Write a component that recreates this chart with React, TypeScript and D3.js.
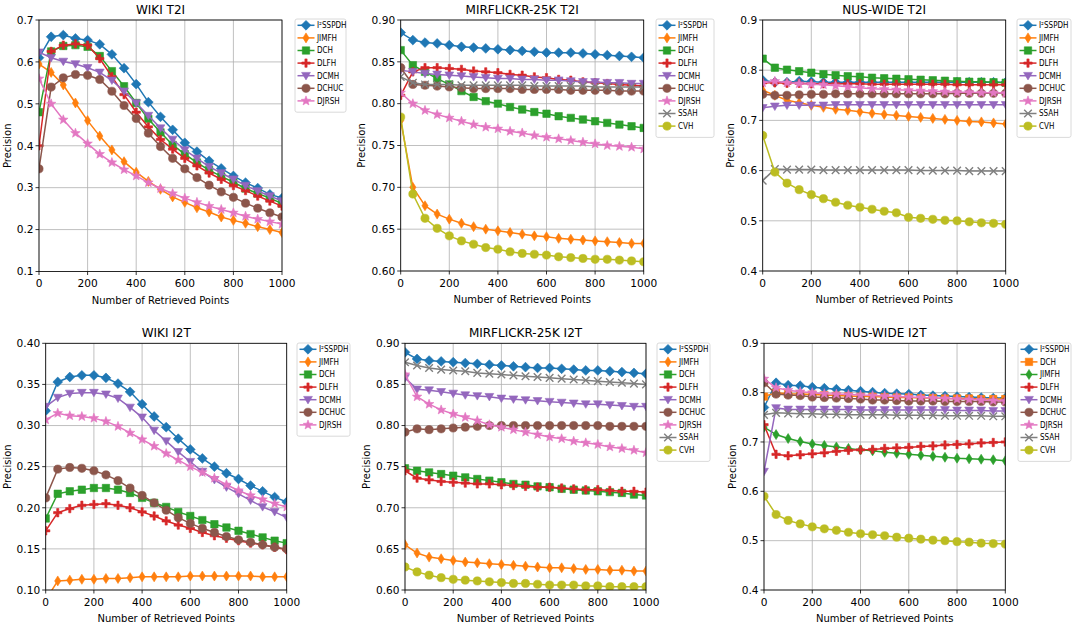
import React from 'react'
import * as d3 from 'd3'

// x positions shared by every panel
const retrievedPoints = [0, 50, 100, 150, 200, 250, 300, 350, 400, 450, 500, 550, 600, 650, 700, 750, 800, 850, 900, 950, 1000]
const xTickValues = [0, 200, 400, 600, 800, 1000]

const wikiT2I: Record<string, number[]> = {
    'I²SSPDH': [0.61, 0.66, 0.664, 0.656, 0.652, 0.642, 0.618, 0.585, 0.547, 0.504, 0.469, 0.438, 0.407, 0.386, 0.364, 0.346, 0.328, 0.312, 0.299, 0.284, 0.275],
    JIMFH: [0.595, 0.575, 0.545, 0.502, 0.46, 0.423, 0.39, 0.362, 0.337, 0.315, 0.296, 0.278, 0.265, 0.252, 0.242, 0.23, 0.222, 0.215, 0.207, 0.2, 0.193],
    DCH: [0.48, 0.625, 0.638, 0.64, 0.636, 0.614, 0.578, 0.542, 0.502, 0.464, 0.432, 0.402, 0.38, 0.36, 0.342, 0.327, 0.313, 0.298, 0.286, 0.275, 0.262],
    DLFH: [0.40, 0.625, 0.64, 0.643, 0.64, 0.608, 0.565, 0.522, 0.48, 0.445, 0.415, 0.392, 0.37, 0.352, 0.335, 0.32, 0.305, 0.293, 0.28, 0.268, 0.256],
    DCMH: [0.623, 0.61, 0.601, 0.595, 0.586, 0.575, 0.556, 0.53, 0.502, 0.472, 0.442, 0.415, 0.39, 0.37, 0.35, 0.335, 0.32, 0.305, 0.292, 0.28, 0.268],
    DCHUC: [0.345, 0.54, 0.562, 0.57, 0.568, 0.558, 0.53, 0.496, 0.465, 0.43, 0.398, 0.37, 0.345, 0.324, 0.306, 0.29, 0.277, 0.263, 0.251, 0.24, 0.23],
    DJRSH: [0.56, 0.5, 0.462, 0.43, 0.405, 0.38, 0.36, 0.343, 0.328, 0.312, 0.298, 0.286, 0.275, 0.265, 0.256, 0.248, 0.24, 0.232, 0.225, 0.219, 0.213],
}

const mirT2I: Record<string, number[]> = {
    'I²SSPDH': [0.885, 0.876, 0.873, 0.872, 0.870, 0.868, 0.867, 0.866, 0.865, 0.864, 0.863, 0.862, 0.861, 0.861, 0.861, 0.860, 0.859, 0.858, 0.857, 0.856, 0.855],
    JIMFH: [0.78, 0.70, 0.678, 0.668, 0.662, 0.657, 0.653, 0.650, 0.648, 0.646, 0.644, 0.642, 0.641, 0.639, 0.638, 0.637, 0.636, 0.635, 0.634, 0.633, 0.633],
    DCH: [0.864, 0.846, 0.838, 0.83, 0.823, 0.815, 0.808, 0.803, 0.800, 0.796, 0.793, 0.790, 0.788, 0.785, 0.783, 0.781, 0.779, 0.777, 0.775, 0.773, 0.771],
    DLFH: [0.81, 0.838, 0.843, 0.843, 0.842, 0.841, 0.839, 0.838, 0.837, 0.835, 0.834, 0.832, 0.831, 0.829, 0.828, 0.826, 0.825, 0.824, 0.823, 0.822, 0.821],
    DCMH: [0.84, 0.838, 0.836, 0.835, 0.834, 0.833, 0.832, 0.831, 0.830, 0.830, 0.829, 0.829, 0.828, 0.828, 0.827, 0.826, 0.826, 0.825, 0.825, 0.824, 0.824],
    DCHUC: [0.843, 0.823, 0.822, 0.821, 0.820, 0.819, 0.818, 0.818, 0.818, 0.818, 0.817, 0.817, 0.817, 0.817, 0.816, 0.816, 0.816, 0.816, 0.815, 0.815, 0.815],
    DJRSH: [0.813, 0.80, 0.792, 0.787, 0.783, 0.779, 0.775, 0.772, 0.770, 0.767, 0.765, 0.762, 0.760, 0.758, 0.756, 0.754, 0.752, 0.750, 0.749, 0.748, 0.746],
    SSAH: [0.832, 0.825, 0.823, 0.823, 0.823, 0.822, 0.822, 0.822, 0.822, 0.822, 0.822, 0.821, 0.821, 0.821, 0.821, 0.821, 0.820, 0.820, 0.820, 0.820, 0.820],
    CVH: [0.784, 0.692, 0.663, 0.651, 0.642, 0.636, 0.632, 0.628, 0.626, 0.623, 0.621, 0.620, 0.619, 0.617, 0.616, 0.615, 0.614, 0.614, 0.613, 0.612, 0.611],
}

const nusT2I: Record<string, number[]> = {
    'I²SSPDH': [0.78, 0.776, 0.776, 0.778, 0.777, 0.776, 0.776, 0.776, 0.776, 0.776, 0.776, 0.776, 0.776, 0.776, 0.776, 0.776, 0.776, 0.776, 0.776, 0.776, 0.776],
    JIMFH: [0.76, 0.75, 0.74, 0.735, 0.73, 0.726, 0.722, 0.72, 0.717, 0.714, 0.712, 0.71, 0.708, 0.706, 0.704, 0.702, 0.70, 0.698, 0.697, 0.695, 0.693],
    DCH: [0.823, 0.805, 0.801, 0.798, 0.795, 0.792, 0.79, 0.788, 0.787, 0.785, 0.784, 0.783, 0.782, 0.781, 0.780, 0.779, 0.778, 0.777, 0.777, 0.776, 0.775],
    DLFH: [0.775, 0.775, 0.774, 0.774, 0.773, 0.773, 0.773, 0.773, 0.773, 0.772, 0.772, 0.772, 0.772, 0.772, 0.772, 0.772, 0.771, 0.771, 0.771, 0.771, 0.771],
    DCMH: [0.725, 0.728, 0.73, 0.73, 0.73, 0.73, 0.731, 0.731, 0.731, 0.731, 0.731, 0.731, 0.731, 0.731, 0.731, 0.731, 0.731, 0.731, 0.731, 0.731, 0.731],
    DCHUC: [0.752, 0.75, 0.75, 0.751, 0.752, 0.752, 0.753, 0.753, 0.753, 0.753, 0.753, 0.753, 0.753, 0.753, 0.753, 0.753, 0.754, 0.754, 0.754, 0.754, 0.754],
    DJRSH: [0.775, 0.778, 0.775, 0.773, 0.772, 0.771, 0.769, 0.767, 0.765, 0.763, 0.762, 0.761, 0.760, 0.759, 0.758, 0.757, 0.756, 0.756, 0.755, 0.755, 0.754],
    SSAH: [0.58, 0.603, 0.602, 0.602, 0.602, 0.601, 0.601, 0.601, 0.601, 0.601, 0.601, 0.601, 0.601, 0.600, 0.600, 0.600, 0.600, 0.599, 0.599, 0.599, 0.599],
    CVH: [0.67, 0.597, 0.575, 0.562, 0.552, 0.544, 0.537, 0.531, 0.527, 0.523, 0.519, 0.516, 0.507, 0.505, 0.503, 0.501, 0.500, 0.498, 0.496, 0.495, 0.493],
}

const wikiI2T: Record<string, number[]> = {
    'I²SSPDH': [0.318, 0.353, 0.359, 0.361, 0.361, 0.358, 0.351, 0.341, 0.326, 0.311, 0.298, 0.284, 0.271, 0.26, 0.25, 0.242, 0.235, 0.227, 0.22, 0.213, 0.207],
    JIMFH: [0.088, 0.111, 0.112, 0.113, 0.113, 0.114, 0.114, 0.115, 0.116, 0.116, 0.116, 0.116, 0.117, 0.117, 0.117, 0.117, 0.117, 0.117, 0.116, 0.116, 0.116],
    DCH: [0.187, 0.217, 0.220, 0.222, 0.224, 0.224, 0.222, 0.218, 0.212, 0.206, 0.201, 0.195, 0.19, 0.185, 0.18, 0.176, 0.172, 0.168, 0.164, 0.16, 0.157],
    DLFH: [0.172, 0.194, 0.199, 0.203, 0.204, 0.205, 0.203, 0.200, 0.195, 0.19, 0.184, 0.179, 0.175, 0.17, 0.166, 0.163, 0.16, 0.157, 0.155, 0.152, 0.149],
    DCMH: [0.323, 0.334, 0.339, 0.340, 0.340, 0.338, 0.333, 0.322, 0.31, 0.294, 0.281, 0.268, 0.256, 0.244, 0.234, 0.225, 0.217, 0.209, 0.201, 0.195, 0.188],
    DCHUC: [0.212, 0.247, 0.249, 0.248, 0.245, 0.24, 0.233, 0.224, 0.215, 0.206, 0.197, 0.188, 0.181, 0.175, 0.17, 0.165, 0.161, 0.158, 0.155, 0.152, 0.150],
    DJRSH: [0.307, 0.315, 0.312, 0.311, 0.309, 0.305, 0.299, 0.291, 0.283, 0.275, 0.266, 0.258, 0.25, 0.243, 0.236, 0.228, 0.221, 0.215, 0.21, 0.205, 0.201],
}

const mirI2T: Record<string, number[]> = {
    'I²SSPDH': [0.889, 0.881, 0.879, 0.878, 0.877, 0.876, 0.875, 0.874, 0.873, 0.872, 0.871, 0.870, 0.870, 0.869, 0.868, 0.867, 0.867, 0.866, 0.865, 0.864, 0.863],
    JIMFH: [0.655, 0.645, 0.64, 0.638, 0.636, 0.634, 0.633, 0.632, 0.631, 0.630, 0.629, 0.628, 0.627, 0.627, 0.626, 0.625, 0.625, 0.624, 0.624, 0.623, 0.623],
    DCH: [0.748, 0.745, 0.743, 0.741, 0.739, 0.737, 0.735, 0.733, 0.731, 0.729, 0.728, 0.726, 0.725, 0.723, 0.722, 0.721, 0.72, 0.719, 0.718, 0.716, 0.715],
    DLFH: [0.745, 0.736, 0.734, 0.732, 0.731, 0.730, 0.729, 0.729, 0.728, 0.727, 0.726, 0.725, 0.725, 0.724, 0.723, 0.722, 0.722, 0.721, 0.720, 0.720, 0.719],
    DCMH: [0.858, 0.844, 0.843, 0.841, 0.839, 0.837, 0.836, 0.835, 0.833, 0.832, 0.831, 0.830, 0.829, 0.828, 0.827, 0.826, 0.826, 0.825, 0.824, 0.823, 0.823],
    DCHUC: [0.792, 0.796, 0.795, 0.796, 0.797, 0.798, 0.799, 0.8, 0.8, 0.8, 0.8, 0.8, 0.8, 0.8, 0.8, 0.8, 0.8, 0.799, 0.799, 0.799, 0.799],
    DJRSH: [0.862, 0.835, 0.826, 0.819, 0.814, 0.81, 0.806, 0.801, 0.798, 0.795, 0.792, 0.789, 0.786, 0.784, 0.781, 0.779, 0.777, 0.774, 0.772, 0.77, 0.767],
    SSAH: [0.877, 0.873, 0.870, 0.868, 0.867, 0.866, 0.864, 0.863, 0.862, 0.861, 0.860, 0.859, 0.858, 0.857, 0.856, 0.855, 0.854, 0.853, 0.852, 0.851, 0.85],
    CVH: [0.628, 0.622, 0.618, 0.615, 0.613, 0.612, 0.611, 0.610, 0.609, 0.608, 0.608, 0.607, 0.606, 0.606, 0.606, 0.605, 0.605, 0.604, 0.604, 0.604, 0.604],
}

const nusI2T: Record<string, number[]> = {
    'I²SSPDH': [0.77, 0.82, 0.815, 0.814, 0.811, 0.809, 0.807, 0.805, 0.803, 0.801, 0.799, 0.798, 0.797, 0.795, 0.794, 0.793, 0.792, 0.791, 0.79, 0.789, 0.789],
    DCH: [0.792, 0.800, 0.798, 0.797, 0.796, 0.795, 0.794, 0.793, 0.792, 0.792, 0.791, 0.79, 0.79, 0.789, 0.789, 0.788, 0.788, 0.788, 0.787, 0.787, 0.787],
    JIMFH: [0.73, 0.715, 0.707, 0.701, 0.696, 0.693, 0.69, 0.687, 0.684, 0.682, 0.679, 0.677, 0.675, 0.673, 0.671, 0.669, 0.667, 0.666, 0.665, 0.664, 0.662],
    DLFH: [0.735, 0.675, 0.672, 0.674, 0.676, 0.678, 0.681, 0.683, 0.684, 0.685, 0.687, 0.688, 0.689, 0.691, 0.692, 0.694, 0.695, 0.696, 0.698, 0.699, 0.70],
    DCMH: [0.64, 0.769, 0.766, 0.766, 0.766, 0.766, 0.766, 0.766, 0.765, 0.765, 0.765, 0.765, 0.765, 0.765, 0.765, 0.765, 0.764, 0.764, 0.764, 0.763, 0.763],
    DCHUC: [0.82, 0.797, 0.795, 0.794, 0.791, 0.79, 0.789, 0.788, 0.787, 0.785, 0.785, 0.784, 0.783, 0.783, 0.783, 0.782, 0.782, 0.782, 0.782, 0.781, 0.781],
    DJRSH: [0.828, 0.81, 0.805, 0.802, 0.8, 0.798, 0.797, 0.796, 0.795, 0.794, 0.793, 0.792, 0.791, 0.790, 0.789, 0.788, 0.787, 0.786, 0.785, 0.784, 0.783],
    SSAH: [0.755, 0.759, 0.758, 0.757, 0.757, 0.756, 0.756, 0.755, 0.755, 0.755, 0.755, 0.754, 0.754, 0.754, 0.754, 0.753, 0.753, 0.753, 0.753, 0.752, 0.752],
    CVH: [0.59, 0.553, 0.541, 0.534, 0.528, 0.524, 0.521, 0.517, 0.514, 0.512, 0.51, 0.507, 0.505, 0.503, 0.501, 0.5, 0.498, 0.497, 0.495, 0.494, 0.493],
}

const yTicksWikiT2I = [0.1, 0.2, 0.3, 0.4, 0.5, 0.6, 0.7]
const yTicksMir = [0.60, 0.65, 0.70, 0.75, 0.80, 0.85, 0.90]
const yTicksNus = [0.4, 0.5, 0.6, 0.7, 0.8, 0.9]
const yTicksWikiI2T = [0.10, 0.15, 0.20, 0.25, 0.30, 0.35, 0.40]

// legend order, colour and marker of each method
const legendSeven = ['I²SSPDH', 'JIMFH', 'DCH', 'DLFH', 'DCMH', 'DCHUC', 'DJRSH']
const legendNine = ['I²SSPDH', 'JIMFH', 'DCH', 'DLFH', 'DCMH', 'DCHUC', 'DJRSH', 'SSAH', 'CVH']
const legendNusI2T = ['I²SSPDH', 'DCH', 'JIMFH', 'DLFH', 'DCMH', 'DCHUC', 'DJRSH', 'SSAH', 'CVH']
const tab10 = ['#1f77b4', '#ff7f0e', '#2ca02c', '#d62728', '#9467bd', '#8c564b', '#e377c2', '#7f7f7f', '#bcbd22']
const markersDefault = ['D', 'd', 's', 'P', 'v', 'o', '*', 'x', 'o']
const markersNusI2T = ['D', 's', 'd', 'P', 'v', 'o', '*', 'x', 'o']

const FONT = 'DejaVu Sans, Verdana, sans-serif'

const markerPath = (kind: string) => {
    switch (kind) {
        case 'D': { const r = 4.9; return `M0,${-r}L${r},0L0,${r}L${-r},0Z` }
        case 'd': { const r = 5; return `M0,${-r}L${r * 0.62},0L0,${r}L${-r * 0.62},0Z` }
        case 's': { const a = 3.7; return `M${-a},${-a}H${a}V${a}H${-a}Z` }
        case 'P': {
            const a = 4.2, t = 1.1
            return `M${-t},${-a}H${t}V${-t}H${a}V${t}H${t}V${a}H${-t}V${t}H${-a}V${-t}H${-t}Z`
        }
        case 'v': { const r = 4.4; return `M${-r},${-r * 0.75}L${r},${-r * 0.75}L0,${r * 0.95}Z` }
        case 'o': { const r = 4.1; return `M${r},0A${r},${r} 0 1 1 ${-r},0A${r},${r} 0 1 1 ${r},0Z` }
        case '*': {
            const pts: string[] = []
            for (let i = 0; i < 10; i++) {
                const rr = i % 2 === 0 ? 5 : 2.1
                const ang = -Math.PI / 2 + i * Math.PI / 5
                pts.push(`${(rr * Math.cos(ang)).toFixed(2)},${(rr * Math.sin(ang)).toFixed(2)}`)
            }
            return 'M' + pts.join('L') + 'Z'
        }
        case 'x': { const a = 3.8; return `M${-a},${-a}L${a},${a}M${-a},${a}L${a},${-a}` }
    }
    return ''
}

const Marker = ({ kind, color, x, y }: { kind: string, color: string, x: number, y: number }) => {
    const stroke = kind === 'x'
    return <path d={markerPath(kind)} transform={`translate(${x},${y})`}
                 fill={stroke ? 'none' : color} stroke={color}
                 strokeWidth={stroke ? 1.4 : 0.6} />
}

interface PanelProps {
    id: string
    title: string
    data: Record<string, number[]>
    names: string[]
    markers: string[]
    yDomain: [number, number]
    yTicks: number[]
    yFormat: string
    left: number
    right: number
    top: number
    bottom: number
    legendX: number
    legendY: number
    legendW: number
    ylabelX: number
}

const Panel = (p: PanelProps) => {
    const x = d3.scaleLinear().domain([0, 1000]).range([p.left, p.right])
    const y = d3.scaleLinear().domain(p.yDomain).range([p.bottom, p.top])
    const fmt = d3.format(p.yFormat)
    const line = d3.line<number>().x((_, i) => x(retrievedPoints[i])).y(d => y(d))
    const rowH = 12.6
    const legendH = p.names.length * rowH + 5

    return (
        <g>
            <defs>
                <clipPath id={`clip-${p.id}`}>
                    <rect x={p.left} y={p.top} width={p.right - p.left} height={p.bottom - p.top} />
                </clipPath>
            </defs>
            {xTickValues.map(t => (
                <line key={`gx${t}`} x1={x(t)} x2={x(t)} y1={p.top} y2={p.bottom} stroke="#b0b0b0" strokeWidth={0.8} />
            ))}
            {p.yTicks.map(t => (
                <line key={`gy${t}`} x1={p.left} x2={p.right} y1={y(t)} y2={y(t)} stroke="#b0b0b0" strokeWidth={0.8} />
            ))}
            <g clipPath={`url(#clip-${p.id})`}>
                {p.names.map((name, si) => {
                    const color = tab10[si]
                    const vals = p.data[name]
                    return (
                        <g key={name}>
                            <path d={line(vals) || ''} fill="none" stroke={color} strokeWidth={1.5} />
                            {vals.map((v, i) => (
                                <Marker key={i} kind={p.markers[si]} color={color} x={x(retrievedPoints[i])} y={y(v)} />
                            ))}
                        </g>
                    )
                })}
            </g>
            <rect x={p.left} y={p.top} width={p.right - p.left} height={p.bottom - p.top} fill="none" stroke="#000" strokeWidth={0.8} />
            {xTickValues.map(t => (
                <g key={`tx${t}`}>
                    <line x1={x(t)} x2={x(t)} y1={p.bottom} y2={p.bottom + 3.5} stroke="#000" strokeWidth={0.8} />
                    <text x={x(t)} y={p.bottom + 15.5} textAnchor="middle" fontSize={10.6} fontFamily={FONT}>{t}</text>
                </g>
            ))}
            {p.yTicks.map(t => (
                <g key={`ty${t}`}>
                    <line x1={p.left - 3.5} x2={p.left} y1={y(t)} y2={y(t)} stroke="#000" strokeWidth={0.8} />
                    <text x={p.left - 5.5} y={y(t) + 3.8} textAnchor="end" fontSize={10.6} fontFamily={FONT}>{fmt(t)}</text>
                </g>
            ))}
            <text x={(p.left + p.right) / 2} y={p.top - 6} textAnchor="middle" fontSize={12} fontFamily={FONT}>{p.title}</text>
            <text x={(p.left + p.right) / 2} y={p.bottom + 32} textAnchor="middle" fontSize={10} fontFamily={FONT}>Number of Retrieved Points</text>
            <text transform={`translate(${p.ylabelX},${(p.top + p.bottom) / 2}) rotate(-90)`} y={3.6} textAnchor="middle" fontSize={10} fontFamily={FONT}>Precision</text>
            <g>
                <rect x={p.legendX} y={p.legendY} width={p.legendW} height={legendH} rx={2}
                      fill="#fff" fillOpacity={0.8} stroke="#d0d0d0" strokeWidth={0.8} />
                {p.names.map((name, si) => {
                    const cy = p.legendY + 6.3 + si * rowH
                    const color = tab10[si]
                    return (
                        <g key={`lg${name}`}>
                            <line x1={p.legendX + 2.5} x2={p.legendX + 19.5} y1={cy} y2={cy} stroke={color} strokeWidth={1.5} />
                            <Marker kind={p.markers[si]} color={color} x={p.legendX + 11} y={cy} />
                            <text x={p.legendX + 22} y={cy + 2.9} fontSize={8}
                                  fontFamily="'DejaVu Sans Condensed', 'Liberation Sans Narrow', 'DejaVu Sans', sans-serif">{name}</text>
                        </g>
                    )
                })}
            </g>
        </g>
    )
}

const App = () => {
    return (
        <svg width={1072} height={625} style={{ position: 'absolute', left: 0, top: 0, background: '#fff' }}>
            <Panel id="p1" title="WIKI T2I" data={wikiT2I} names={legendSeven} markers={markersDefault}
                   yDomain={[0.1, 0.7]} yTicks={yTicksWikiT2I} yFormat=".1f"
                   left={39} right={282} top={20} bottom={271.5}
                   legendX={295} legendY={19} legendW={51} ylabelX={7} />
            <Panel id="p2" title="MIRFLICKR-25K T2I" data={mirT2I} names={legendNine} markers={markersDefault}
                   yDomain={[0.6, 0.9]} yTicks={yTicksMir} yFormat=".2f"
                   left={400.7} right={643.7} top={20} bottom={271}
                   legendX={656} legendY={19} legendW={58} ylabelX={361} />
            <Panel id="p3" title="NUS-WIDE T2I" data={nusT2I} names={legendNine} markers={markersDefault}
                   yDomain={[0.4, 0.9]} yTicks={yTicksNus} yFormat=".1f"
                   left={762.7} right={1005.7} top={20} bottom={271}
                   legendX={1017} legendY={19} legendW={54} ylabelX={730} />
            <Panel id="p4" title="WIKI I2T" data={wikiI2T} names={legendSeven} markers={markersDefault}
                   yDomain={[0.1, 0.4]} yTicks={yTicksWikiI2T} yFormat=".2f"
                   left={45.7} right={286.7} top={343.3} bottom={590}
                   legendX={297} legendY={343} legendW={53} ylabelX={7} />
            <Panel id="p5" title="MIRFLICKR-25K I2T" data={mirI2T} names={legendNine} markers={markersDefault}
                   yDomain={[0.6, 0.9]} yTicks={yTicksMir} yFormat=".2f"
                   left={405} right={646} top={343.3} bottom={590}
                   legendX={657} legendY={343} legendW={53} ylabelX={366} />
            <Panel id="p6" title="NUS-WIDE I2T" data={nusI2T} names={legendNusI2T} markers={markersNusI2T}
                   yDomain={[0.4, 0.9]} yTicks={yTicksNus} yFormat=".1f"
                   left={764} right={1005.3} top={343.3} bottom={590}
                   legendX={1018} legendY={343} legendW={53} ylabelX={732} />
        </svg>
    )
}

export default App
